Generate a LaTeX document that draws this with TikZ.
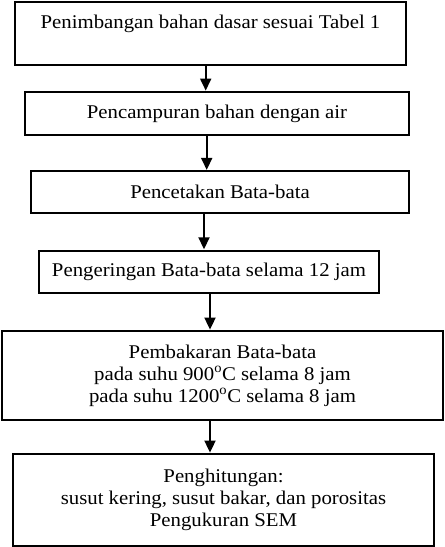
\documentclass[tikz,border=0pt]{standalone}
\usepackage{fontspec}
\setmainfont{Liberation Serif}[FakeStretch=1.07]
\usetikzlibrary{arrows.meta}
\begin{document}
\begin{tikzpicture}[x=1bp,y=-1bp,
  box/.style={draw, line width=1.8bp, inner sep=0pt, align=center,
    font=\fontsize{19.5}{22}\selectfont},
  arr/.style={line width=1.8bp, -{Triangle[length=12bp,width=11bp]}, shorten >=0.5bp}]
\useasboundingbox (0,0) rectangle (445,547);
\node[box, anchor=north, minimum width=391bp, text height=27bp, text depth=36bp] (b1) at (210.5,1) {Penimbangan bahan dasar sesuai Tabel 1};
\node[box, minimum width=384bp, minimum height=43bp] (b2) at (217,113.5) {Pencampuran bahan dengan air};
\node[box, minimum width=378bp, minimum height=42bp] (b3) at (220,192.3) {Pencetakan Bata-bata};
\node[box, minimum width=340bp, minimum height=42bp] (b4) at (209,271.7) {Pengeringan Bata-bata selama 12 jam};
\node[box, minimum width=441bp, minimum height=89bp] (b5) at (222.5,375.5) {Pembakaran Bata-bata\\pada suhu 900\textsuperscript{o}C selama 8 jam\\pada suhu 1200\textsuperscript{o}C selama 8 jam};
\node[box, minimum width=421bp, minimum height=92bp] (b6) at (223.5,500) {Penghitungan:\\susut kering, susut bakar, dan porositas\\Pengukuran SEM};
\coordinate (a1) at (205.7,0);
\coordinate (a2) at (206.7,0);
\coordinate (a3) at (204,0);
\coordinate (a4) at (210,0);
\coordinate (a5) at (210,0);
\draw[arr] (b1.south -| a1) -- (b2.north -| a1);
\draw[arr] (b2.south -| a2) -- (b3.north -| a2);
\draw[arr] (b3.south -| a3) -- (b4.north -| a3);
\draw[arr] (b4.south -| a4) -- (b5.north -| a4);
\draw[arr] (b5.south -| a5) -- (b6.north -| a5);
\end{tikzpicture}
\end{document}
